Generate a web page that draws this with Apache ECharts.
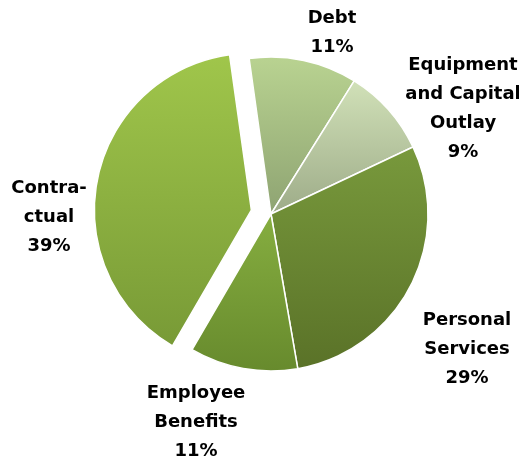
<!DOCTYPE html>
<html>
<head>
<meta charset="utf-8">
<script src="https://cdn.jsdelivr.net/npm/echarts@6/dist/echarts.min.js"></script>
<style>
  html, body { margin: 0; padding: 0; background: #fff; }
  #chart { width: 519px; height: 462px; }
</style>
</head>
<body>
<div id="chart"></div>
<script>
// Budget share by category (percent)
const categories = ['Debt', 'Equipment and Capital Outlay', 'Personal Services', 'Employee Benefits', 'Contractual'];
const labelTexts = ['Debt', 'Equipment\nand Capital\nOutlay', 'Personal\nServices', 'Employee\nBenefits', 'Contra-\nctual'];
const shares = [11, 9, 29, 11, 39];
const detached = 'Contractual';

// Vertical gradient per slice: [top colour, bottom colour]
const sliceColors = [
  ['#b9d391', '#8ea372'],
  ['#d1e1b8', '#9dab88'],
  ['#78993c', '#5a7228'],
  ['#86ae40', '#678a2d'],
  ['#a0c64b', '#789a36']
];

// Label anchor points (px): centre of each slice's text block
const labelAnchors = [
  [332, 33],
  [463, 109],
  [467, 349],
  [196, 422],
  [49, 217]
];

const pieCenter = [271, 214];
const pieRadius = 157;
const pieStart = 98;

const chart = echarts.init(document.getElementById('chart'), null, { renderer: 'canvas' });

// Coloured slices, with the contractual slice pulled out
const sliceData = categories.map((name, i) => ({
  name: name,
  value: shares[i],
  selected: name === detached,
  itemStyle: {
    color: new echarts.graphic.LinearGradient(0, 0, 0, 1, [
      { offset: 0, color: sliceColors[i][0] },
      { offset: 1, color: sliceColors[i][1] }
    ])
  }
}));

// Same slices again, invisible, carrying the category labels
const labelData = categories.map((name, i) => ({
  name: name,
  value: shares[i],
  label: { formatter: labelTexts[i] + '\n' + shares[i] + '%' }
}));

chart.setOption({
  animation: false,
  series: [
    {
      type: 'pie',
      center: pieCenter,
      radius: [0, pieRadius],
      startAngle: pieStart,
      clockwise: true,
      selectedMode: 'single',
      selectedOffset: 20,
      itemStyle: { borderColor: '#ffffff', borderWidth: 1.5 },
      label: { show: false },
      labelLine: { show: false },
      emphasis: { disabled: true },
      data: sliceData
    },
    {
      type: 'pie',
      silent: true,
      center: pieCenter,
      radius: [0, pieRadius],
      startAngle: pieStart,
      clockwise: true,
      avoidLabelOverlap: false,
      itemStyle: { color: 'rgba(0,0,0,0)', borderWidth: 0 },
      label: {
        show: true,
        position: 'outside',
        color: '#000',
        fontFamily: 'DejaVu Sans, Verdana, sans-serif',
        fontWeight: 'bold',
        fontSize: 18,
        lineHeight: 29,
        align: 'center',
        verticalAlign: 'middle'
      },
      labelLine: { show: false },
      labelLayout: function (p) {
        const a = labelAnchors[p.dataIndex];
        return { x: a[0], y: a[1], align: 'center', verticalAlign: 'middle' };
      },
      emphasis: { disabled: true },
      data: labelData
    }
  ]
});
</script>
</body>
</html>
